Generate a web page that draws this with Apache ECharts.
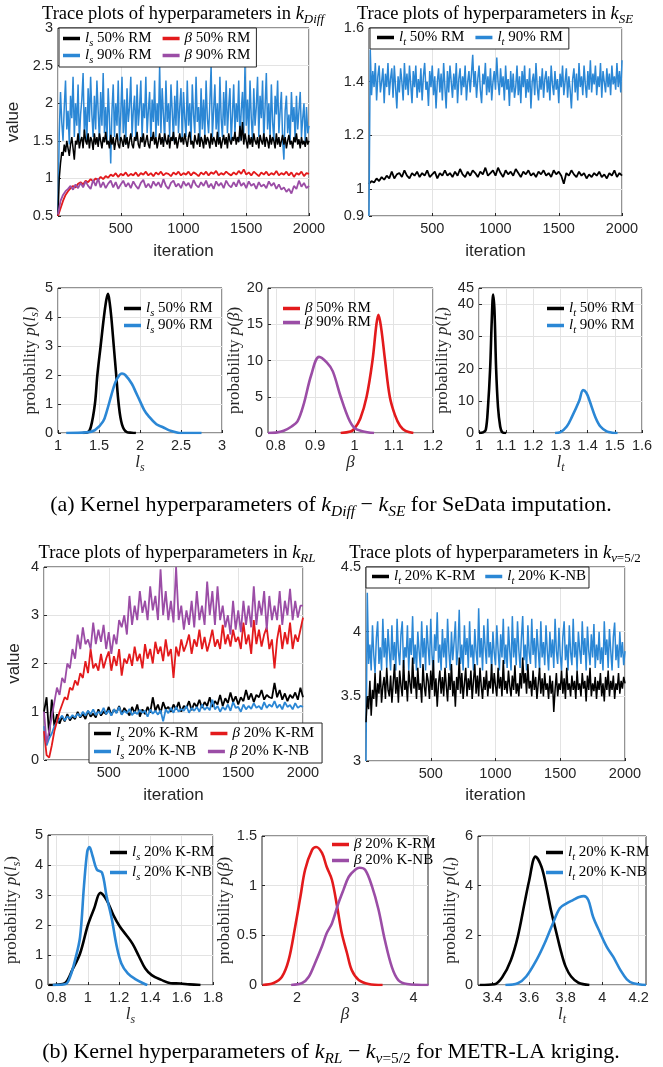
<!DOCTYPE html>
<html>
<head>
<meta charset="utf-8">
<script src="https://cdn.jsdelivr.net/npm/echarts@6/dist/echarts.min.js"></script>
<style>
html, body { margin: 0; padding: 0; background: #fff; }
#chart { width: 663px; height: 1067px; }
</style>
</head>
<body>
<div id="chart"></div>
<script>
// iteration indexes for the trace plots (coarse: every 20, fine: every 10)
const iterations = [0,20,40,60,80,100,120,140,160,180,200,220,240,260,280,300,320,340,360,380,
  400,420,440,460,480,500,520,540,560,580,600,620,640,660,680,700,720,740,760,780,
  800,820,840,860,880,900,920,940,960,980,1000,1020,1040,1060,1080,1100,1120,1140,1160,1180,
  1200,1220,1240,1260,1280,1300,1320,1340,1360,1380,1400,1420,1440,1460,1480,1500,1520,1540,1560,1580,
  1600,1620,1640,1660,1680,1700,1720,1740,1760,1780,1800,1820,1840,1860,1880,1900,1920,1940,1960,1980,2000];
const iterFine = [0,10,20,30,40,50,60,70,80,90,100,110,120,130,140,150,160,170,180,190,
  200,210,220,230,240,250,260,270,280,290,300,310,320,330,340,350,360,370,380,390,
  400,410,420,430,440,450,460,470,480,490,500,510,520,530,540,550,560,570,580,590,
  600,610,620,630,640,650,660,670,680,690,700,710,720,730,740,750,760,770,780,790,
  800,810,820,830,840,850,860,870,880,890,900,910,920,930,940,950,960,970,980,990,
  1000,1010,1020,1030,1040,1050,1060,1070,1080,1090,1100,1110,1120,1130,1140,1150,1160,1170,1180,1190,
  1200,1210,1220,1230,1240,1250,1260,1270,1280,1290,1300,1310,1320,1330,1340,1350,1360,1370,1380,1390,
  1400,1410,1420,1430,1440,1450,1460,1470,1480,1490,1500,1510,1520,1530,1540,1550,1560,1570,1580,1590,
  1600,1610,1620,1630,1640,1650,1660,1670,1680,1690,1700,1710,1720,1730,1740,1750,1760,1770,1780,1790,
  1800,1810,1820,1830,1840,1850,1860,1870,1880,1890,1900,1910,1920,1930,1940,1950,1960,1970,1980,1990,2000];

// (a) trace plots, k_Diff (fine)
const diffLs50 = [0.5,1.0,1.2,1.35,1.3,1.45,1.35,1.5,1.4,1.3,1.45,1.55,1.4,1.25,1.5,1.45,1.6,1.4,1.5,1.55,
  1.4,1.65,1.5,1.45,1.6,1.4,1.55,1.5,1.38,1.6,1.45,1.55,1.42,1.6,1.5,1.4,1.55,1.48,1.62,1.45,
  1.5,1.4,1.58,1.45,1.55,1.38,1.5,1.6,1.45,1.4,1.55,1.5,1.42,1.58,1.45,1.55,1.4,1.5,1.6,1.45,
  1.4,1.55,1.5,1.62,1.45,1.4,1.55,1.48,1.6,1.42,1.5,1.58,1.45,1.4,1.55,1.5,1.62,1.45,1.55,1.4,
  1.5,1.6,1.45,1.55,1.42,1.6,1.5,1.45,1.58,1.4,1.55,1.5,1.62,1.45,1.55,1.4,1.5,1.6,1.48,1.55,
  1.45,1.6,1.5,1.42,1.55,1.62,1.45,1.5,1.4,1.58,1.5,1.45,1.6,1.42,1.55,1.5,1.4,1.58,1.45,1.55,
  1.5,1.4,1.6,1.45,1.55,1.5,1.42,1.62,1.45,1.55,1.4,1.5,1.58,1.45,1.55,1.4,1.6,1.5,1.45,1.55,
  1.5,1.62,1.45,1.55,1.48,1.7,1.5,1.75,1.45,1.6,1.5,1.4,1.58,1.45,1.55,1.42,1.6,1.5,1.45,1.55,
  1.4,1.58,1.5,1.45,1.6,1.42,1.55,1.5,1.4,1.58,1.45,1.55,1.5,1.4,1.6,1.45,1.55,1.42,1.5,1.58,
  1.45,1.55,1.4,1.5,1.58,1.45,1.5,1.4,1.55,1.48,1.6,1.45,1.52,1.4,1.55,1.45,1.5,1.42,1.55,1.45,1.5];
const diffLs90 = [0.55,1.6,2.15,1.75,1.5,1.95,2.3,1.65,1.9,1.45,2.1,1.8,2.35,1.55,2.0,1.7,2.25,1.5,1.85,2.05,
  2.4,1.6,1.95,1.5,2.2,1.75,2.35,1.85,1.55,2.1,1.65,2.3,1.9,1.5,2.15,1.7,2.4,1.6,1.95,1.5,
  2.2,1.8,1.2,1.9,2.25,1.55,2.0,1.7,2.3,1.5,1.85,2.35,1.6,2.05,1.45,2.2,1.75,1.95,2.35,1.55,
  1.9,2.1,1.5,2.25,1.7,1.95,2.3,1.55,2.0,1.8,2.35,1.6,1.9,2.15,1.5,2.05,1.75,2.3,1.55,2.0,
  1.7,2.5,1.6,2.2,1.85,1.5,2.3,1.75,2.0,1.55,2.25,1.9,1.5,2.1,1.7,2.3,1.6,1.95,2.2,1.5,
  2.15,1.8,1.55,2.3,1.7,2.0,1.5,2.25,1.85,1.6,2.35,1.75,1.95,1.5,2.2,1.65,2.05,1.55,2.3,1.8,
  1.6,2.0,2.5,1.55,1.9,2.25,1.65,2.0,1.5,2.35,1.8,1.55,2.15,1.7,2.3,1.6,1.95,2.2,1.5,1.85,
  2.25,1.6,2.0,1.75,2.3,1.5,1.9,2.15,1.6,2.5,1.7,2.05,1.55,2.3,1.8,1.5,2.2,1.7,1.95,2.35,
  1.55,2.1,1.8,2.3,1.5,1.95,2.4,1.65,2.0,1.55,2.25,1.75,1.5,2.1,1.85,2.3,1.6,1.9,2.15,1.5,
  1.25,1.9,2.1,1.6,1.85,1.5,2.15,1.75,1.95,1.5,2.1,1.65,1.9,2.15,1.55,1.8,2.0,1.45,1.95,1.6,1.7];
// (a) trace plots, k_Diff (coarse)
const diffB50 = [0.5,0.6,0.7,0.78,0.83,0.87,0.9,0.88,0.93,0.95, 0.92,0.97,0.95,0.99,0.96,1.0,0.98,1.02,0.99,1.03,
  1.01,1.05,1.03,1.07,1.02,1.06,1.04,1.08,1.03,1.06, 1.04,1.08,1.03,1.07,1.05,1.09,1.04,1.07,1.03,1.08,
  1.05,1.09,1.04,1.07,1.06,1.03,1.08,1.05,1.09,1.04, 1.07,1.05,1.09,1.04,1.08,1.06,1.03,1.08,1.05,1.09,
  1.04,1.08,1.06,1.1,1.04,1.07,1.05,1.09,1.06,1.04, 1.08,1.05,1.1,1.06,1.12,1.05,1.08,1.04,1.09,1.06,
  1.03,1.08,1.05,1.09,1.04,1.07,1.05,1.1,1.04,1.07, 1.05,1.09,1.04,1.08,1.02,1.07,1.05,1.09,1.03,1.07, 1.06];
const diffB90 = [0.52,0.7,0.78,0.83,0.86,0.9,0.85,0.92,0.87,0.94, 0.88,0.96,0.9,0.86,0.98,0.9,1.0,0.88,0.95,0.87,
  0.93,0.97,0.88,0.95,0.86,0.92,0.97,0.89,0.94,0.87, 0.96,0.9,0.86,0.94,0.98,0.88,0.93,0.87,0.96,0.9,
  0.95,0.88,0.99,0.9,0.86,0.94,0.97,0.89,0.93,0.87, 0.96,0.9,0.94,0.87,0.98,0.91,0.88,0.95,0.9,0.97,
  0.88,0.93,0.86,0.96,0.9,0.94,0.87,0.97,0.91,0.88, 0.95,0.89,0.98,0.9,0.94,0.87,0.96,0.9,0.93,0.86,
  0.95,0.89,0.92,0.87,0.96,0.9,0.94,0.86,0.92,0.85, 0.88,0.82,0.86,0.8,0.9,0.86,0.97,0.89,0.94,0.87, 0.9];

// (a) trace plots, k_SE
const seLt50 = [1.02,1.03,1.025,1.04,1.03,1.045,1.035,1.05,1.04,1.065, 1.04,1.055,1.06,1.045,1.07,1.05,1.04,1.06,1.05,1.065,
  1.045,1.06,1.05,1.07,1.045,1.055,1.065,1.04,1.06,1.05, 1.07,1.05,1.06,1.045,1.065,1.05,1.075,1.055,1.045,1.065,
  1.05,1.07,1.06,1.045,1.065,1.055,1.08,1.05,1.06,1.07, 1.05,1.08,1.06,1.045,1.07,1.055,1.065,1.05,1.075,1.06,
  1.045,1.065,1.055,1.07,1.05,1.06,1.045,1.065,1.055,1.07, 1.05,1.06,1.045,1.07,1.055,1.065,1.05,1.02,1.06,1.05,
  1.07,1.055,1.045,1.065,1.05,1.06,1.04,1.055,1.045,1.06, 1.05,1.065,1.045,1.055,1.04,1.06,1.05,1.07,1.045,1.06, 1.05];
const seLt90 = [0.9,1.52,1.35,1.44,1.38,1.47,1.33,1.42,1.46,1.36,1.4,1.45,1.32,1.43,1.38,1.47,1.35,1.41,1.45,1.34,
  1.46,1.38,1.3,1.42,1.36,1.45,1.4,1.33,1.47,1.37,1.43,1.35,1.46,1.39,1.32,1.44,1.38,1.46,1.34,1.41,
  1.36,1.45,1.33,1.42,1.47,1.37,1.4,1.31,1.44,1.38,1.46,1.35,1.42,1.3,1.4,1.45,1.36,1.43,1.33,1.47,
  1.38,1.3,1.44,1.36,1.46,1.4,1.34,1.43,1.37,1.47,1.32,1.41,1.45,1.35,1.42,1.38,1.46,1.33,1.4,1.44,
  1.36,1.43,1.5,1.38,1.44,1.34,1.41,1.46,1.37,1.32,1.43,1.39,1.47,1.35,1.42,1.36,1.45,1.33,1.4,1.44,
  1.37,1.49,1.4,1.35,1.45,1.38,1.42,1.33,1.46,1.37,1.41,1.31,1.44,1.36,1.43,1.34,1.38,1.46,1.35,1.42,
  1.32,1.44,1.38,1.46,1.34,1.41,1.36,1.45,1.3,1.4,1.43,1.35,1.47,1.38,1.33,1.42,1.37,1.45,1.34,1.41,
  1.44,1.36,1.42,1.33,1.46,1.39,1.35,1.44,1.37,1.41,1.32,1.43,1.38,1.46,1.35,1.4,1.45,1.34,1.42,1.37,
  1.3,1.41,1.45,1.36,1.43,1.33,1.47,1.38,1.42,1.35,1.46,1.39,1.34,1.44,1.37,1.48,1.36,1.43,1.39,1.46,
  1.35,1.42,1.38,1.47,1.34,1.44,1.4,1.36,1.45,1.38,1.43,1.35,1.46,1.39,1.42,1.37,1.47,1.38,1.44,1.36,1.48];

// (b) trace plots, k_RL (coarse)
const rlLsRM = [1.0,1.3,0.5,1.25,0.7,0.95,0.75,0.9,0.8,0.95, 0.82,0.9,0.85,1.0,0.88,0.95,0.85,1.02,0.9,0.96,
  0.88,1.05,0.92,1.0,0.95,1.1,0.93,1.05,0.98,1.12, 0.95,1.08,1.0,0.92,1.1,0.97,1.15,0.9,1.05,0.95,
  1.1,0.98,1.3,1.02,1.15,0.97,1.2,1.05,1.1,1.0, 1.15,1.05,1.2,1.0,1.12,1.08,1.22,1.03,1.18,1.1,
  1.25,1.08,1.2,1.12,1.3,1.1,1.22,1.15,1.35,1.12, 1.28,1.18,1.4,1.2,1.32,1.15,1.3,1.22,1.45,1.25,
  1.38,1.2,1.35,1.3,1.45,1.25,1.35,1.3,1.28,1.6, 1.3,1.45,1.25,1.38,1.22,1.35,1.28,1.4,1.25,1.5, 1.3];
const rlLsNB = [0.7,0.3,0.45,0.55,0.7,0.78,0.85,0.92,0.82,0.9, 0.86,0.93,0.88,0.96,0.9,1.0,0.92,1.02,0.95,1.05,
  0.93,1.0,0.96,1.08,0.95,1.03,0.92,1.05,0.97,1.1, 0.94,1.02,0.97,1.06,0.93,1.0,0.95,1.04,0.98,1.02,
  0.9,1.05,0.96,1.02,0.94,1.03,0.8,1.05,0.97,1.08, 0.98,1.1,1.0,1.06,1.02,1.12,0.98,1.08,1.02,1.1,
  1.0,1.15,1.04,1.1,1.03,1.25,1.05,1.12,1.0,1.1, 1.04,1.15,1.02,1.2,1.08,1.1,1.0,1.15,1.05,1.12,
  1.06,1.18,1.08,1.12,1.05,1.2,1.08,1.15,1.1,1.22, 1.08,1.15,1.05,1.2,1.1,1.14,1.05,1.18,1.08,1.12, 1.1];
const rlBRM = [0.6,0.1,0.05,0.3,0.6,0.8,1.0,1.15,1.3,1.25, 1.5,1.45,1.65,1.55,1.8,1.7,2.05,1.8,2.3,1.9,
  2.0,1.85,2.2,1.9,2.1,2.25,1.85,2.15,1.95,2.3, 1.75,2.1,2.0,2.2,1.95,2.35,2.05,2.2,1.9,2.4,
  2.1,2.3,2.0,2.45,2.2,2.35,2.05,2.5,2.15,2.3, 1.7,2.35,2.15,2.5,2.25,2.4,2.6,2.2,2.5,2.35,
  2.7,2.3,2.55,2.25,2.45,2.7,2.35,2.5,2.3,2.8, 2.4,2.6,2.35,2.7,2.45,2.55,2.3,2.85,2.4,2.6,
  2.2,2.9,2.4,2.7,2.35,2.6,2.75,2.3,2.5,1.9, 2.5,2.8,2.3,2.65,2.4,2.85,2.3,2.6,2.45,2.7, 2.95];
const rlBNB = [1.0,0.35,0.6,0.9,1.2,1.5,1.35,1.7,1.6,2.0, 1.9,2.3,2.1,2.6,2.3,2.75,2.4,2.5,2.3,2.85,
  2.4,2.7,2.45,2.8,2.3,2.65,2.2,2.6,2.4,2.9, 2.75,3.0,2.6,3.4,2.8,3.2,2.9,3.5,3.05,3.3,
  2.9,3.6,3.1,3.4,2.9,3.95,3.0,3.5,2.9,3.3, 2.85,4.0,2.9,3.2,2.7,3.1,2.8,3.3,2.75,3.5,
  2.9,3.2,2.8,3.7,3.0,3.5,2.8,3.6,2.9,3.2, 2.75,3.0,2.6,3.3,2.7,3.1,2.65,3.3,2.8,3.2,
  2.75,3.6,2.8,3.3,3.0,3.5,2.7,3.4,2.9,3.2, 2.9,3.5,2.8,3.3,3.0,3.55,2.9,3.3,2.95,3.2, 3.2];

// (b) trace plots, k_nu=5/2 (fine)
const nuLtRM = [3.3,3.5,3.4,3.62,3.35,3.55,3.48,3.68,3.42,3.6,3.52,3.7,3.45,3.58,3.65,3.48,3.72,3.55,3.5,3.66,
  3.45,3.6,3.75,3.52,3.65,3.45,3.7,3.58,3.5,3.78,3.55,3.62,3.46,3.7,3.6,3.52,3.8,3.56,3.65,3.48,
  3.72,3.55,3.6,3.45,3.75,3.58,3.5,3.68,3.62,3.48,3.7,3.55,3.78,3.5,3.64,3.42,3.6,3.7,3.52,3.65,
  3.5,3.72,3.58,3.46,3.68,3.55,3.75,3.5,3.62,3.42,3.65,3.55,3.8,3.52,3.68,3.48,3.6,3.72,3.5,3.64,
  3.55,3.7,3.48,3.62,3.75,3.52,3.66,3.5,3.72,3.58,3.48,3.65,3.55,3.7,3.5,3.62,3.56,3.75,3.52,3.68,
  3.58,3.5,3.72,3.56,3.65,3.5,3.78,3.55,3.62,3.52,3.7,3.58,3.5,3.66,3.55,3.74,3.52,3.6,3.5,3.68,
  3.56,3.8,3.6,3.68,3.52,3.75,3.56,3.62,3.5,3.7,3.55,3.65,3.48,3.6,3.72,3.52,3.64,3.5,3.68,3.55,
  3.6,3.48,3.66,3.52,3.62,3.38,3.55,3.68,3.5,3.6,3.55,3.7,3.52,3.64,3.48,3.72,3.55,3.6,3.5,3.66,
  3.55,3.62,3.48,3.7,3.55,3.6,3.5,3.68,3.56,3.62,3.46,3.66,3.55,3.72,3.5,3.6,3.54,3.65,3.48,3.62,
  3.55,3.68,3.5,3.6,3.46,3.65,3.55,3.7,3.5,3.62,3.55,3.66,3.48,3.6,3.55,3.68,3.52,3.62,3.56,3.65,3.6];
const nuLtNB = [3.0,4.3,3.75,3.9,3.7,4.05,3.82,3.68,3.95,4.08,3.75,3.88,3.7,4.1,3.8,3.95,3.72,4.02,3.85,3.7,
  4.05,3.78,3.92,3.7,4.1,3.85,3.74,3.98,4.08,3.72,3.88,3.8,4.05,3.7,3.95,3.82,4.12,3.75,3.9,3.7,
  4.0,3.85,3.72,4.08,3.8,3.95,3.7,4.05,3.88,3.74,4.1,3.82,3.7,3.98,3.85,4.15,3.76,3.9,3.7,4.02,
  3.8,3.95,3.72,4.1,3.85,3.7,4.0,3.78,3.92,4.08,3.74,3.86,4.17,3.75,3.9,3.7,4.05,3.82,3.95,3.72,
  4.08,3.8,3.9,3.7,4.02,3.85,3.74,4.18,3.8,3.95,3.7,4.05,3.88,3.75,4.1,3.8,3.92,3.7,4.0,3.84,
  3.74,4.05,3.86,3.7,3.98,3.8,4.1,3.75,3.9,3.72,4.04,3.85,3.7,4.12,3.8,3.95,3.74,4.08,3.86,3.72,
  3.95,4.12,3.78,3.9,3.7,4.05,3.84,3.75,4.1,3.82,3.95,3.72,4.02,3.86,3.7,4.08,3.8,3.92,3.74,4.05,
  3.85,3.7,4.0,3.8,3.94,3.72,4.1,3.85,3.75,4.03,3.82,3.7,3.96,4.08,3.78,3.9,3.7,4.05,3.84,3.74,
  4.1,3.8,3.92,3.7,4.0,3.86,3.75,4.08,3.82,3.95,3.7,4.04,3.85,3.74,3.98,3.8,4.06,3.72,3.9,3.78,
  4.0,3.75,3.88,3.7,4.08,3.82,3.94,3.72,4.02,3.85,3.7,3.96,4.07,3.78,3.9,3.72,4.0,3.8,3.92,3.74,3.85];

// (a) posterior densities
const aLs50X = [1.3,1.36,1.4,1.45,1.48,1.52,1.56,1.59,1.61,1.63,1.65,1.68,1.71,1.74,1.78,1.84,1.9,1.95];
const aLs50Y = [0,0.02,0.2,1.0,2.0,3.0,4.0,4.6,4.8,4.5,4.0,3.0,2.0,1.0,0.3,0.03,0.01,0];
const aLs90X = [1.1,1.35,1.45,1.55,1.6,1.65,1.7,1.75,1.78,1.82,1.9,1.95,2.0,2.05,2.1,2.2,2.28,2.35,2.45,2.5,2.75];
const aLs90Y = [0,0.02,0.1,0.4,0.8,1.3,1.75,2.0,2.05,2.0,1.7,1.4,1.1,0.8,0.6,0.3,0.2,0.1,0.02,0,0];
const aB50X = [0.965,0.99,1.0,1.015,1.031,1.046,1.056,1.061,1.068,1.078,1.09,1.103,1.116,1.13,1.15];
const aB50Y = [0,0.2,0.6,2.0,5.0,10.0,15.0,16.3,14.5,10.0,5.0,2.5,1.0,0.3,0];
const aB90X = [0.78,0.8,0.82,0.84,0.855,0.87,0.89,0.91,0.93,0.945,0.965,0.985,1.0,1.02,1.05];
const aB90Y = [0,0.05,0.3,0.9,1.6,3.8,8.0,10.5,9.7,8.5,5.0,2.0,0.7,0.25,0];
const aLt50X = [1.0,1.015,1.025,1.033,1.041,1.047,1.052,1.057,1.063,1.07,1.078,1.085,1.1];
const aLt50Y = [0,0.2,1,8,20,35,43,38,20,8,2,0.3,0];
const aLt90X = [1.28,1.3,1.323,1.342,1.369,1.383,1.395,1.407,1.428,1.447,1.47,1.49,1.51];
const aLt90Y = [0,0.3,2,5,10,13.3,12.5,10,5,2,0.5,0.1,0];

// (b) posterior densities
const bLsRMX = [0.75,0.8,0.857,0.9,0.95,1.0,1.04,1.08,1.12,1.163,1.204,1.245,1.286,1.327,1.367,1.408,1.47,1.53,1.59,1.65,1.72];
const bLsRMY = [0,0.01,0.08,0.5,1.05,2.0,2.55,3.07,2.83,2.33,1.95,1.67,1.37,0.95,0.55,0.33,0.17,0.06,0.05,0.02,0];
const bLsNBX = [0.775,0.857,0.888,0.918,0.95,0.975,0.996,1.01,1.03,1.057,1.09,1.12,1.153,1.184,1.214,1.255,1.306,1.357,1.38];
const bLsNBY = [0,0.03,0.3,0.83,1.6,3.3,4.45,4.6,4.3,3.85,3.75,2.95,2.2,1.3,0.72,0.39,0.19,0.05,0];
const bBRMX = [1.41,1.6,1.74,1.857,1.97,2.06,2.14,2.26,2.33,2.43,2.51,2.6,2.69,2.77,2.86,2.94,3.06,3.23,3.47];
const bBRMY = [0,0.02,0.08,0.25,0.59,0.89,1.16,1.36,1.39,1.33,1.19,1.06,0.79,0.52,0.32,0.15,0.05,0.01,0];
const bBNBX = [1.9,2.09,2.2,2.31,2.43,2.51,2.6,2.71,2.8,2.89,3.0,3.07,3.17,3.29,3.4,3.51,3.63,3.74,3.89,4.26];
const bBNBY = [0,0.02,0.08,0.22,0.39,0.52,0.62,0.82,0.96,1.09,1.16,1.18,1.16,0.99,0.76,0.45,0.18,0.05,0.01,0];
const bLtRMX = [3.33,3.41,3.455,3.5,3.538,3.575,3.6,3.635,3.667,3.694,3.72,3.75,3.777,3.8,3.83,3.87,3.93];
const bLtRMY = [0,0.03,0.34,1.0,1.95,3.3,4.2,5.17,4.77,3.96,3.0,2.08,1.28,0.74,0.34,0.09,0];
const bLtNBX = [3.47,3.538,3.584,3.64,3.685,3.73,3.768,3.805,3.84,3.87,3.9,3.924,3.95,3.99,4.025,4.06,4.1,4.135,4.17,4.24];
const bLtNBY = [0,0.07,0.34,1.0,1.68,2.48,3.09,3.29,3.42,3.53,3.58,3.42,2.75,2.08,1.54,1.14,0.6,0.23,0.07,0];

const BLACK = '#000000', BLUE = '#2b87d5', RED = '#e31a1c', PURPLE = '#9b4da6';
const SERIF = 'Liberation Serif', SANS = 'Liberation Sans', AXIS = '#262626';

// rich styles for math-like labels: t upright, i italic, s italic subscript, u upright subscript
function richSet(size, color, lh) {
    lh = lh || Math.round(size * 1.15);
    const off = Math.round(size * 0.3);
    const base = { fontFamily: SERIF, fontSize: size, lineHeight: lh, color: color, fontWeight: 'normal' };
    const sub = { fontFamily: SERIF, fontSize: size * 0.7, padding: [off, 0, -off, 0], color: color, fontWeight: 'normal' };
    return {
        t: base,
        tp: Object.assign({}, base, { padding: [0, 12, 0, 0] }),
        i: Object.assign({}, base, { fontStyle: 'italic' }),
        s: Object.assign({}, sub, { fontStyle: 'italic' }),
        u: sub
    };
}

const LABELS = {
    ls50: '{i|l}{s|s}{t| 50% RM}', ls90: '{i|l}{s|s}{t| 90% RM}',
    b50: '{i|β}{t| 50% RM}', b90: '{i|β}{t| 90% RM}',
    lt50: '{i|l}{s|t}{t| 50% RM}', lt90: '{i|l}{s|t}{t| 90% RM}',
    ls20RM: '{i|l}{s|s}{t| 20% K-RM}', ls20NB: '{i|l}{s|s}{t| 20% K-NB}',
    b20RM: '{i|β}{t| 20% K-RM}', b20NB: '{i|β}{t| 20% K-NB}',
    lt20RM: '{i|l}{s|t}{t| 20% K-RM}', lt20NB: '{i|l}{s|t}{t| 20% K-NB}'
};

const GRIDS = [
    { left: 58, top: 28, width: 251, height: 188 },
    { left: 369, top: 28, width: 253, height: 188 },
    { left: 58, top: 288, width: 164, height: 145 },
    { left: 268, top: 288, width: 165, height: 145 },
    { left: 479, top: 288, width: 163, height: 145 },
    { left: 44, top: 567, width: 259, height: 193 },
    { left: 366, top: 567, width: 259, height: 194 },
    { left: 48, top: 835, width: 165, height: 150 },
    { left: 262, top: 836, width: 166, height: 149 },
    { left: 478, top: 836, width: 168, height: 149 }
];

function axis(g, o) {
    const a = {
        type: 'value', gridIndex: g, min: o.min, max: o.max,
        axisLine: { show: false },
        axisTick: { show: true, inside: true, length: 3, lineStyle: { color: AXIS } },
        axisLabel: {
            color: AXIS, fontFamily: SANS, fontSize: 14.5, margin: 5,
            showMinLabel: o.hideMin ? false : true,
            formatter: v => String(Math.round(v * 1000) / 1000)
        },
        splitLine: { show: true, lineStyle: { color: '#e3e3e3', width: 1 } }
    };
    if (o.interval) a.interval = o.interval;
    if (o.ticks) {
        a.axisTick.customValues = o.ticks;
        a.axisLabel.customValues = o.ticks;
    }
    if (o.name) {
        a.name = o.name;
        a.nameLocation = 'middle';
        a.nameGap = o.gap;
        if (o.rotate) a.nameRotate = 90;
        a.nameTextStyle = o.rich
            ? { rich: richSet(17, AXIS) }
            : { fontFamily: SANS, fontSize: 17, color: AXIS };
    }
    return a;
}

const xAxes = [
    axis(0, { min: 0, max: 2000, interval: 500, hideMin: true, name: 'iteration', gap: 27 }),
    axis(1, { min: 0, max: 2000, interval: 500, hideMin: true, name: 'iteration', gap: 27 }),
    axis(2, { min: 1, max: 3, interval: 0.5, name: '{i|l}{s|s}', gap: 20, rich: true }),
    axis(3, { min: 0.78, max: 1.2, ticks: [0.8, 0.9, 1, 1.1, 1.2], name: '{i|β}', gap: 20, rich: true }),
    axis(4, { min: 1, max: 1.6, interval: 0.1, name: '{i|l}{s|t}', gap: 20, rich: true }),
    axis(5, { min: 0, max: 2000, interval: 500, hideMin: true, name: 'iteration', gap: 27 }),
    axis(6, { min: 0, max: 2000, interval: 500, hideMin: true, name: 'iteration', gap: 26 }),
    axis(7, { min: 0.745, max: 1.8, ticks: [0.8, 1, 1.2, 1.4, 1.6, 1.8], name: '{i|l}{s|s}', gap: 19, rich: true }),
    axis(8, { min: 1.4, max: 4.25, ticks: [2, 3, 4], name: '{i|β}', gap: 19, rich: true }),
    axis(9, { min: 3.32, max: 4.24, ticks: [3.4, 3.6, 3.8, 4, 4.2], name: '{i|l}{s|t}', gap: 19, rich: true })
];

const pLs = '{t|probability }{i|p}{t|(}{i|l}{s|s}{t|)}';
const pB = '{t|probability }{i|p}{t|(}{i|β}{t|)}';
const pLt = '{t|probability }{i|p}{t|(}{i|l}{s|t}{t|)}';

const yAxes = [
    axis(0, { min: 0.5, max: 3, interval: 0.5, name: 'value', gap: 36, rotate: true }),
    axis(1, { min: 0.9, max: 1.6, ticks: [0.9, 1, 1.2, 1.4, 1.6] }),
    axis(2, { min: 0, max: 5, interval: 1, name: pLs, gap: 15, rotate: true, rich: true }),
    axis(3, { min: 0, max: 20, interval: 5, name: pB, gap: 16, rotate: true, rich: true }),
    axis(4, { min: 0, max: 45, ticks: [0, 10, 20, 30, 40, 45], name: pLt, gap: 22, rotate: true, rich: true }),
    axis(5, { min: 0, max: 4, interval: 1, name: 'value', gap: 21, rotate: true }),
    axis(6, { min: 3, max: 4.5, interval: 0.5 }),
    axis(7, { min: 0, max: 5, interval: 1, name: pLs, gap: 26, rotate: true, rich: true }),
    axis(8, { min: 0, max: 1.5, interval: 0.5, name: pB, gap: 27, rotate: true, rich: true }),
    axis(9, { min: 0, max: 6, interval: 2, name: pLt, gap: 13, rotate: true, rich: true })
];

function trace(name, g, iters, values, color, width) {
    return {
        type: 'line', name: name, xAxisIndex: g, yAxisIndex: g,
        data: iters.map((it, k) => [it, values[k]]),
        showSymbol: false, symbol: 'none',
        lineStyle: { width: width, color: color }, itemStyle: { color: color }
    };
}

function density(name, g, xs, ys, color) {
    return {
        type: 'line', name: name, xAxisIndex: g, yAxisIndex: g,
        data: xs.map((x, k) => [x, ys[k]]),
        showSymbol: false, symbol: 'none', smooth: 0.35,
        lineStyle: { width: 2.6, color: color }, itemStyle: { color: color }
    };
}

const series = [
    trace('ls90', 0, iterFine, diffLs90, BLUE, 1.5),
    trace('ls50', 0, iterFine, diffLs50, BLACK, 1.5),
    trace('b50', 0, iterations, diffB50, RED, 1.8),
    trace('b90', 0, iterations, diffB90, PURPLE, 1.8),
    trace('lt50', 1, iterations, seLt50, BLACK, 1.8),
    trace('lt90', 1, iterFine, seLt90, BLUE, 1.5),
    density('ls50', 2, aLs50X, aLs50Y, BLACK),
    density('ls90', 2, aLs90X, aLs90Y, BLUE),
    density('b50', 3, aB50X, aB50Y, RED),
    density('b90', 3, aB90X, aB90Y, PURPLE),
    density('lt50', 4, aLt50X, aLt50Y, BLACK),
    density('lt90', 4, aLt90X, aLt90Y, BLUE),
    trace('ls20RM', 5, iterations, rlLsRM, BLACK, 1.8),
    trace('ls20NB', 5, iterations, rlLsNB, BLUE, 1.8),
    trace('b20RM', 5, iterations, rlBRM, RED, 1.8),
    trace('b20NB', 5, iterations, rlBNB, PURPLE, 1.8),
    trace('lt20NB', 6, iterFine, nuLtNB, BLUE, 1.5),
    trace('lt20RM', 6, iterFine, nuLtRM, BLACK, 1.5),
    density('ls20RM', 7, bLsRMX, bLsRMY, BLACK),
    density('ls20NB', 7, bLsNBX, bLsNBY, BLUE),
    density('b20RM', 8, bBRMX, bBRMY, RED),
    density('b20NB', 8, bBNBX, bBNBY, PURPLE),
    density('lt20RM', 9, bLtRMX, bLtRMY, BLACK),
    density('lt20NB', 9, bLtNBX, bLtNBY, BLUE)
];

function legend(names, o, padNames) {
    const boxed = !!o.boxed;
    return {
        data: names, left: o.left, top: o.top, width: o.width,
        orient: o.orient || 'horizontal',
        icon: 'rect', itemWidth: 17, itemHeight: 3.5, itemGap: o.gap,
        selectedMode: false,
        textStyle: { color: '#000', rich: richSet(15, '#000', 15) },
        formatter: n => (padNames && padNames.indexOf(n) >= 0) ? LABELS[n].replace('{t|', '{tp|') : LABELS[n],
        padding: o.padding || 0,
        backgroundColor: boxed ? '#fff' : 'transparent',
        borderColor: boxed ? AXIS : 'transparent',
        borderWidth: boxed ? 1 : 0
    };
}

const legends = [
    legend(['ls50', 'b50', 'ls90', 'b90'], { left: 59, top: 28, width: 192, gap: -1, boxed: true, padding: [3, 6, 1, 4] }, ['ls50', 'ls90']),
    legend(['lt50', 'lt90'], { left: 370, top: 28, gap: 11, boxed: true, padding: [2, 6, 1, 7] }),
    legend(['ls50', 'ls90'], { left: 124, top: 301, orient: 'vertical', gap: -1 }),
    legend(['b50', 'b90'], { left: 283, top: 301, orient: 'vertical', gap: -1 }),
    legend(['lt50', 'lt90'], { left: 547, top: 301, orient: 'vertical', gap: -1 }),
    legend(['ls20RM', 'b20RM', 'ls20NB', 'b20NB'], { left: 89, top: 723, width: 225, gap: 0, boxed: true, padding: [3, 8, 1, 5] }, ['ls20RM', 'ls20NB']),
    legend(['lt20RM', 'lt20NB'], { left: 366, top: 567, gap: 10, boxed: true, padding: [2, 3, 1, 6] }),
    legend(['ls20RM', 'ls20NB'], { left: 110, top: 845, orient: 'vertical', gap: 2 }),
    legend(['b20RM', 'b20NB'], { left: 332, top: 837, orient: 'vertical', gap: 1 }),
    legend(['lt20RM', 'lt20NB'], { left: 546, top: 845, orient: 'vertical', gap: 2 })
];

function heading(text, x, y, size) {
    return {
        text: text, left: x, top: y, padding: 0,
        textAlign: 'center', textVerticalAlign: 'middle',
        textStyle: { fontWeight: 'normal', rich: richSet(size, '#000') }
    };
}

const titles = [
    heading('{t|Trace plots of hyperparameters in }{i|k}{s|Diff}', 183, 14, 18.5),
    heading('{t|Trace plots of hyperparameters in }{i|k}{s|SE}', 495, 14, 18.5),
    heading('{t|Trace plots of hyperparameters in }{i|k}{s|RL}', 177, 553, 18.5),
    heading('{t|Trace plots of hyperparameters in }{i|k}{s|ν}{u|=5/2}', 495, 553, 18.5),
    heading('{t|(a) Kernel hyperparameters of }{i|k}{s|Diff}{t| − }{i|k}{s|SE}{t| for SeData imputation.}', 331, 505, 22),
    heading('{t|(b) Kernel hyperparameters of }{i|k}{s|RL}{t| − }{i|k}{s|ν}{u|=5/2}{t| for METR-LA kriging.}', 331, 1052, 22)
];

const chart = echarts.init(document.getElementById('chart'));
chart.setOption({
    animation: false,
    backgroundColor: '#fff',
    textStyle: { fontFamily: SANS },
    title: titles,
    legend: legends,
    grid: GRIDS.map(g => Object.assign({ show: true, borderColor: AXIS, borderWidth: 1, backgroundColor: 'transparent', containLabel: false }, g)),
    xAxis: xAxes,
    yAxis: yAxes,
    series: series
});
</script>
</body>
</html>
